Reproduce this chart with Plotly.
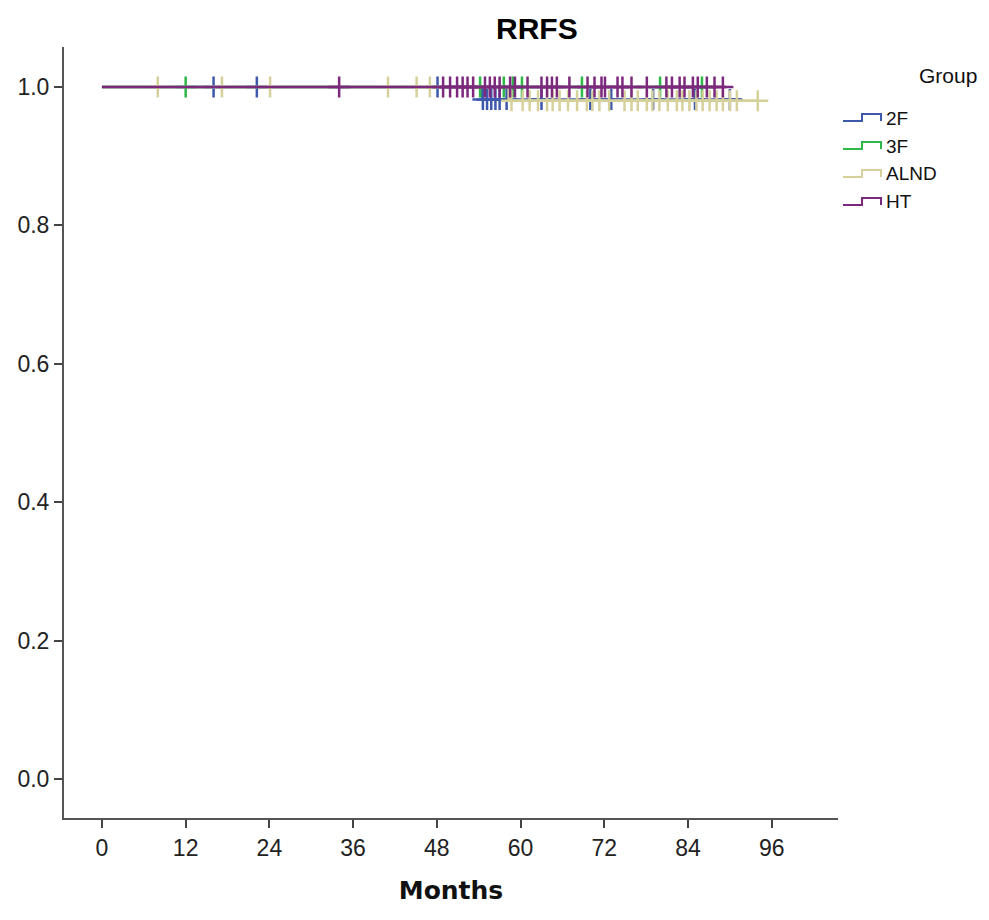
import numpy as np
import plotly.graph_objects as go

# Kaplan-Meier step curves (time in months, survival after each step)
groups = ["2F", "3F", "ALND", "HT"]
colors = {"2F": "#3E58AC", "3F": "#2EB848", "ALND": "#D6D19B", "HT": "#7C287D"}

step_times = {
    "2F": [0.0, 54.5, 91.8],
    "3F": [0.0, 88.0],
    "ALND": [0.0, 58.3, 94.0],
    "HT": [0.0, 89.5],
}
step_surv = {
    "2F": [1.0, 0.982, 0.982],
    "3F": [1.0, 1.0],
    "ALND": [1.0, 0.980, 0.980],
    "HT": [1.0, 1.0],
}

# censored follow-up times (months)
censored = {
    "2F": [16.0, 22.2, 48.1, 54.6, 55.2, 55.8, 56.4, 57.0, 58.0, 63.0, 70.0,
           73.0, 79.0, 85.0, 90.0],
    "3F": [12.0, 54.2, 57.6, 58.9, 60.2, 68.8, 80.0, 86.0],
    "ALND": [8.0, 17.2, 24.1, 41.0, 45.1, 47.0, 58.7, 60.3, 61.3, 62.5, 63.8,
             64.6, 65.6, 66.8, 68.1, 69.5, 70.3, 71.3, 72.7, 74.9, 75.9, 76.8,
             78.1, 78.9, 79.9, 81.1, 82.4, 83.2, 84.2, 85.2, 86.1, 87.1, 88.1,
             89.0, 90.0, 91.0, 94.0],
    "HT": [34.0, 48.9, 49.9, 50.9, 51.7, 52.4, 53.2, 54.9, 55.6, 56.3, 57.0,
           58.5, 59.2, 61.0, 63.0, 63.8, 64.5, 65.2, 67.0, 69.6, 70.6, 71.6,
           72.1, 73.9, 74.6, 75.9, 78.1, 80.9, 81.7, 82.8, 83.5, 84.7, 85.4,
           86.7, 87.8, 89.0],
}

x_ticks = [0, 12, 24, 36, 48, 60, 72, 84, 96]
y_ticks = [0.0, 0.2, 0.4, 0.6, 0.8, 1.0]
y_tick_text = ["0.0", "0.2", "0.4", "0.6", "0.8", "1.0"]


def surv_at(g, t):
    idx = np.searchsorted(np.array(step_times[g]), np.array(t), side="right") - 1
    return np.array(step_surv[g])[idx]


fig = go.Figure()
for g in groups:
    fig.add_trace(go.Scatter(
        x=step_times[g], y=step_surv[g], mode="lines", line_shape="hv",
        line=dict(color=colors[g], width=2.5), showlegend=False, hoverinfo="skip"))
    fig.add_trace(go.Scatter(
        x=censored[g], y=surv_at(g, censored[g]), mode="markers",
        marker=dict(symbol="cross-thin", size=15,
                    line=dict(color=colors[g], width=2.5)),
        showlegend=False, hoverinfo="skip"))

W, H = 989, 920
L, R, T, B = 64, 151, 47, 102
pw, ph = W - L - R, H - T - B


def px(xp):
    return (xp - L) / pw


def py(yp):
    return 1 - (yp - T) / ph


# legend: step-shaped icons with group labels
shapes = []
annotations = []
legend_rows = {"2F": 120, "3F": 148, "ALND": 176, "HT": 204}
for g in groups:
    yc = legend_rows[g]
    path_pts = [(843, yc + 1), (862, yc + 1), (862, yc - 6), (881, yc - 6), (881, yc + 1)]
    path = "M " + " L ".join(f"{px(a):.5f},{py(b):.5f}" for a, b in path_pts)
    shapes.append(dict(type="path", xref="paper", yref="paper", path=path,
                       line=dict(color=colors[g], width=2)))
    annotations.append(dict(xref="paper", yref="paper", x=px(884), y=py(yc - 2),
                            text=g, showarrow=False, xanchor="left", yanchor="middle",
                            font=dict(family="Liberation Sans, Arial", size=19, color="#111")))
annotations.append(dict(xref="paper", yref="paper", x=px(948), y=py(76), text="Group",
                        showarrow=False, xanchor="center", yanchor="middle",
                        font=dict(family="Liberation Sans, Arial", size=21, color="#111")))
annotations.append(dict(xref="paper", yref="paper", x=px(537), y=py(28), text="<b>RRFS</b>",
                        showarrow=False, xanchor="center", yanchor="middle",
                        font=dict(family="Liberation Sans, Arial", size=30, color="#000")))

tick_font = dict(family="Liberation Sans, Arial", size=23, color="#222")
fig.update_layout(
    width=W, height=H,
    margin=dict(l=L, r=R, t=T, b=B, pad=0),
    paper_bgcolor="white", plot_bgcolor="white",
    shapes=shapes, annotations=annotations,
    xaxis=dict(range=[-5.44, 105.5], tickvals=x_ticks, ticktext=[str(v) for v in x_ticks],
               showgrid=False, zeroline=False, showline=True, linecolor="#555", linewidth=2,
               ticks="outside", ticklen=8, tickwidth=2, tickcolor="#444", tickfont=tick_font,
               title=dict(text="<b>Months</b>", standoff=22,
                          font=dict(family="DejaVu Sans, Arial", size=25, color="#111"))),
    yaxis=dict(range=[-0.0564, 1.0578], tickvals=y_ticks, ticktext=y_tick_text,
               showgrid=False, zeroline=False, showline=True, linecolor="#555", linewidth=2,
               ticks="outside", ticklen=8, tickwidth=2, tickcolor="#444", tickfont=tick_font),
)

fig.write_html("out.html")
